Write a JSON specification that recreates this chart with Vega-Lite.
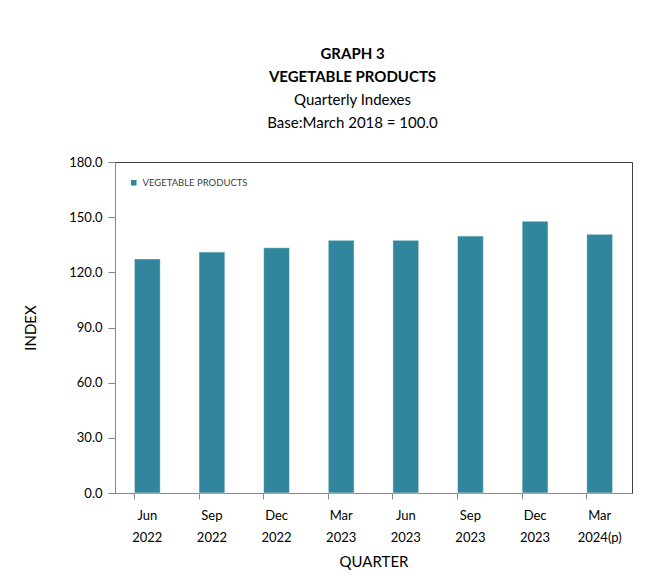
{
  "$schema": "https://vega.github.io/schema/vega-lite/v6.json",
  "width": 517,
  "height": 331,
  "autosize": {"type": "none"},
  "padding": {"left": 115, "top": 162, "right": 30, "bottom": 87},
  "background": "white",
  "title": {
    "text": ["GRAPH  3", "VEGETABLE  PRODUCTS"],
    "subtitle": ["Quarterly Indexes", "Base:March 2018 = 100.0"],
    "anchor": "middle",
    "frame": "group",
    "dx": -21,
    "offset": 25,
    "font": "Lato",
    "fontSize": 15,
    "fontWeight": "bold",
    "color": "#000000",
    "lineHeight": 23,
    "subtitleFont": "Lato",
    "subtitleFontSize": 15,
    "subtitleFontWeight": "normal",
    "subtitleColor": "#000000",
    "subtitleLineHeight": 23,
    "subtitlePadding": 8
  },
  "data": {
    "values": [
      {"quarter": "Jun 2022", "series": "VEGETABLE PRODUCTS", "index": 127.3},
      {"quarter": "Sep 2022", "series": "VEGETABLE PRODUCTS", "index": 131.0},
      {"quarter": "Dec 2022", "series": "VEGETABLE PRODUCTS", "index": 133.4},
      {"quarter": "Mar 2023", "series": "VEGETABLE PRODUCTS", "index": 137.4},
      {"quarter": "Jun 2023", "series": "VEGETABLE PRODUCTS", "index": 137.4},
      {"quarter": "Sep 2023", "series": "VEGETABLE PRODUCTS", "index": 139.7},
      {"quarter": "Dec 2023", "series": "VEGETABLE PRODUCTS", "index": 147.8},
      {"quarter": "Mar 2024(p)", "series": "VEGETABLE PRODUCTS", "index": 140.7}
    ]
  },
  "mark": {"type": "bar", "stroke": "#ffffff", "strokeWidth": 0.5},
  "encoding": {
    "x": {
      "field": "quarter",
      "type": "nominal",
      "sort": null,
      "scale": {"paddingInner": 0.6, "paddingOuter": 0.3},
      "axis": {
        "title": "QUARTER",
        "titleFont": "Lato",
        "titleFontSize": 15,
        "titleFontWeight": "normal",
        "titleColor": "#000000",
        "titlePadding": 10,
        "labelAngle": 0,
        "labelExpr": "split(datum.label, ' ')",
        "labelFont": "Lato",
        "labelFontSize": 13,
        "labelColor": "#000000",
        "labelLineHeight": 22,
        "labelPadding": 10,
        "bandPosition": 0,
        "tickSize": 6,
        "tickColor": "#868686",
        "domainColor": "#868686",
        "grid": false
      }
    },
    "y": {
      "field": "index",
      "type": "quantitative",
      "scale": {"domain": [0, 180], "nice": false},
      "axis": {
        "title": "INDEX",
        "titleFont": "Lato",
        "titleFontSize": 15,
        "titleFontWeight": "normal",
        "titleColor": "#000000",
        "titlePadding": 30,
        "values": [0, 30, 60, 90, 120, 150, 180],
        "format": ".1f",
        "labelFont": "Lato",
        "labelFontSize": 13,
        "labelColor": "#000000",
        "labelPadding": 6,
        "tickSize": 7,
        "tickColor": "#868686",
        "domainColor": "#868686",
        "grid": false
      }
    },
    "color": {
      "field": "series",
      "type": "nominal",
      "scale": {"range": ["#31859c"]},
      "legend": {
        "title": null,
        "orient": "none",
        "legendX": 14,
        "legendY": 16,
        "symbolType": "square",
        "symbolSize": 50,
        "labelFont": "Lato",
        "labelFontSize": 9.5,
        "labelColor": "#404040"
      }
    }
  },
  "config": {
    "view": {"stroke": "#404040", "strokeWidth": 1}
  }
}
